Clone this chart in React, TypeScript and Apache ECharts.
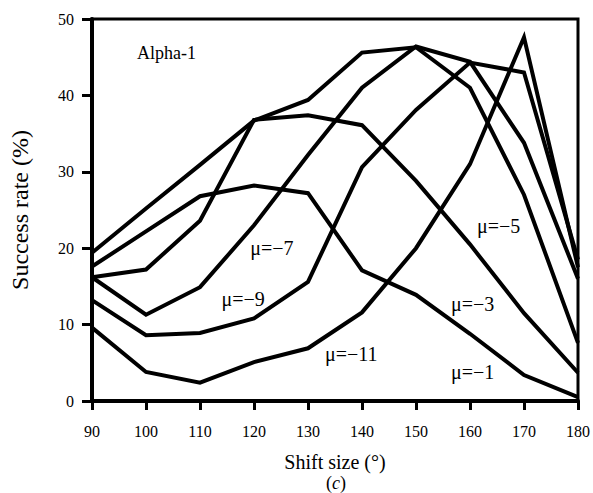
import React, { useEffect, useRef } from "react";
import * as echarts from "echarts";

const shiftSizes = [90, 100, 110, 120, 130, 140, 150, 160, 170, 180];
const muNames = ["μ=−1", "μ=−3", "μ=−5", "μ=−7", "μ=−9", "μ=−11"];
const rateMu1 = [17.6, 22.2, 26.8, 28.2, 27.2, 17.1, 13.9, 8.8, 3.4, 0.5];
const rateMu3 = [16.2, 17.2, 23.6, 36.8, 37.4, 36.1, 28.8, 20.5, 11.5, 3.7];
const rateMu5 = [19.4, 25.2, 30.9, 36.7, 39.4, 45.6, 46.3, 41.0, 27.0, 7.6];
const rateMu7 = [16.2, 11.3, 14.9, 23.0, 32.2, 41.0, 46.4, 44.4, 33.8, 16.0];
const rateMu9 = [13.2, 8.6, 8.9, 10.8, 15.6, 30.6, 38.1, 44.3, 43.0, 18.5];
const rateMu11 = [9.6, 3.8, 2.4, 5.1, 6.9, 11.6, 20.0, 31.0, 47.6, 17.5];
const allRates = [rateMu1, rateMu3, rateMu5, rateMu7, rateMu9, rateMu11];
// label anchors in data coordinates (shift size, success rate)
const labelAnchors = [
  [160.5, 3.8],
  [160.5, 12.7],
  [165.3, 22.9],
  [123.3, 20.0],
  [118.0, 13.4],
  [138.0, 6.2],
];

const FONT = "'Liberation Serif', 'Times New Roman', serif";

export default function App() {
  const ref = useRef<HTMLDivElement>(null);
  useEffect(() => {
    if (!ref.current) return;
    const chart = echarts.init(ref.current, null, { renderer: "svg" });
    const series = allRates.map((rates, i) => ({
      type: "line",
      name: muNames[i],
      data: shiftSizes.map((x, j) => [x, rates[j]]),
      showSymbol: false,
      symbol: "none",
      lineStyle: { color: "#000", width: 4, join: "miter", miterLimit: 4 },
      z: 3,
      markPoint: {
        symbol: "circle",
        symbolSize: 0,
        silent: true,
        data: [
          {
            coord: labelAnchors[i],
            label: {
              show: true,
              position: "inside",
              formatter: muNames[i],
              color: "#000",
              fontFamily: FONT,
              fontSize: 20,
            },
          },
        ],
      },
    }));
    chart.setOption({
      animation: false,
      backgroundColor: "#fff",
      title: [
        {
          text: "Alpha-1",
          left: 132,
          top: 39,
          textStyle: { fontFamily: FONT, fontSize: 18, fontWeight: "normal", color: "#000" },
        },
        {
          text: "{a|(}{b|c}{a|)}",
          left: 326,
          top: 474,
          padding: 0,
          textStyle: {
            fontWeight: "normal",
            rich: {
              a: { fontFamily: FONT, fontSize: 18, lineHeight: 18, fontWeight: "normal", color: "#000" },
              b: {
                fontFamily: FONT,
                fontSize: 18,
                lineHeight: 18,
                fontWeight: "normal",
                fontStyle: "italic",
                color: "#000",
              },
            },
          },
        },
      ],
      grid: {
        left: 92,
        right: 14,
        top: 19,
        bottom: 92,
        show: true,
        borderColor: "#000",
        borderWidth: 3,
      },
      xAxis: {
        type: "value",
        min: 90,
        max: 180,
        interval: 10,
        name: "Shift size (°)",
        nameLocation: "middle",
        nameGap: 51,
        nameTextStyle: { fontFamily: FONT, fontSize: 20, color: "#000" },
        axisLine: { lineStyle: { color: "#000", width: 4 } },
        axisTick: { length: 9, lineStyle: { color: "#000", width: 3 } },
        axisLabel: { fontFamily: FONT, fontSize: 16, color: "#000", margin: 22 },
        splitLine: { show: false },
      },
      yAxis: {
        type: "value",
        min: 0,
        max: 50,
        interval: 10,
        name: "Success rate (%)",
        nameLocation: "middle",
        nameGap: 60,
        nameTextStyle: { fontFamily: FONT, fontSize: 24, color: "#000" },
        axisLine: { lineStyle: { color: "#000", width: 4 } },
        axisTick: { length: 10, lineStyle: { color: "#000", width: 3 } },
        axisLabel: { fontFamily: FONT, fontSize: 16, color: "#000", margin: 18 },
        splitLine: { show: false },
      },
      series,
    });
    return () => chart.dispose();
  }, []);
  return (
    <div
      ref={ref}
      style={{ position: "fixed", left: 0, top: 0, width: 593, height: 493, background: "#fff" }}
    />
  );
}
